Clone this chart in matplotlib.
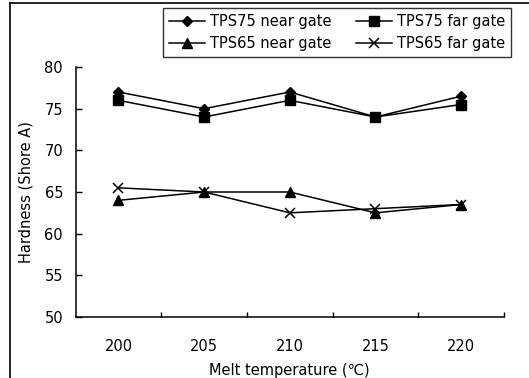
import matplotlib
matplotlib.use("Agg")
import matplotlib.pyplot as plt
from matplotlib.lines import Line2D

categories = ["200", "205", "210", "215", "220"]
tps75_near = [77, 75, 77, 74, 76.5]
tps75_far = [76, 74, 76, 74, 75.5]
tps65_near = [64, 65, 65, 62.5, 63.5]
tps65_far = [65.5, 65, 62.5, 63, 63.5]
yticks = [50, 55, 60, 65, 70, 75, 80]

plt.rcParams['font.family'] = ['DejaVu Sans', 'Noto Sans CJK KR']
FS = 10.5

fig = plt.figure(figsize=(5.29, 3.78), dpi=100)
ax = fig.add_axes([75.6 / 529, 1 - 317 / 378, (504 - 75.6) / 529, (317 - 67) / 378])

x = list(range(len(categories)))
kw = dict(color='black', lw=1.1, markeredgecolor='black', markerfacecolor='black')
h1, = ax.plot(x, tps75_near, marker='D', ms=5.5, label='TPS75 near gate', **kw)
h2, = ax.plot(x, tps75_far, marker='s', ms=6.5, label='TPS75 far gate', **kw)
h3, = ax.plot(x, tps65_near, marker='^', ms=7, label='TPS65 near gate', **kw)
h4, = ax.plot(x, tps65_far, marker='x', ms=7, mew=1.1, label='TPS65 far gate', **kw)

ax.set_xlim(-0.5, len(categories) - 0.5)
ax.set_ylim(50, 80)
ax.set_yticks(yticks)
ax.tick_params(axis='y', direction='in', length=4, width=1, labelsize=FS, pad=9, colors='black')
ax.set_xticks([i + 0.5 for i in range(len(categories))])
ax.set_xticklabels([])
ax.tick_params(axis='x', which='major', direction='in', length=3.5, width=1)
ax.set_xticks(x, minor=True)
ax.set_xticklabels(categories, minor=True)
ax.tick_params(axis='x', which='minor', length=0, labelsize=FS, pad=16)

for s in ['top', 'right']:
    ax.spines[s].set_visible(False)
for s in ['left', 'bottom']:
    ax.spines[s].set_linewidth(1.1)

ax.set_ylabel('Hardness (Shore A)', fontsize=FS, labelpad=8)
ax.set_xlabel('Melt temperature (℃)', fontsize=FS, labelpad=6)

handles = [h1, h3, h2, h4]
leg = fig.legend(handles=handles, labels=[h.get_label() for h in handles],
                 loc='upper left', bbox_to_anchor=(163 / 529, 1 - 8 / 378), ncol=2,
                 fontsize=FS, frameon=True, fancybox=False, edgecolor='black',
                 handlelength=2.5, handletextpad=0.3, columnspacing=1.7,
                 labelspacing=0.5, borderpad=0.4, borderaxespad=0)
leg.get_frame().set_linewidth(1.0)

# outer figure frame (left and top edges)
fig.add_artist(Line2D([10 / 529, 10 / 529], [0, 1 - 3 / 378], color='black', lw=1.2,
                      transform=fig.transFigure))
fig.add_artist(Line2D([10 / 529, 1], [1 - 3 / 378, 1 - 3 / 378], color='black', lw=1.2,
                      transform=fig.transFigure))

fig.savefig('out.png', dpi=100)
